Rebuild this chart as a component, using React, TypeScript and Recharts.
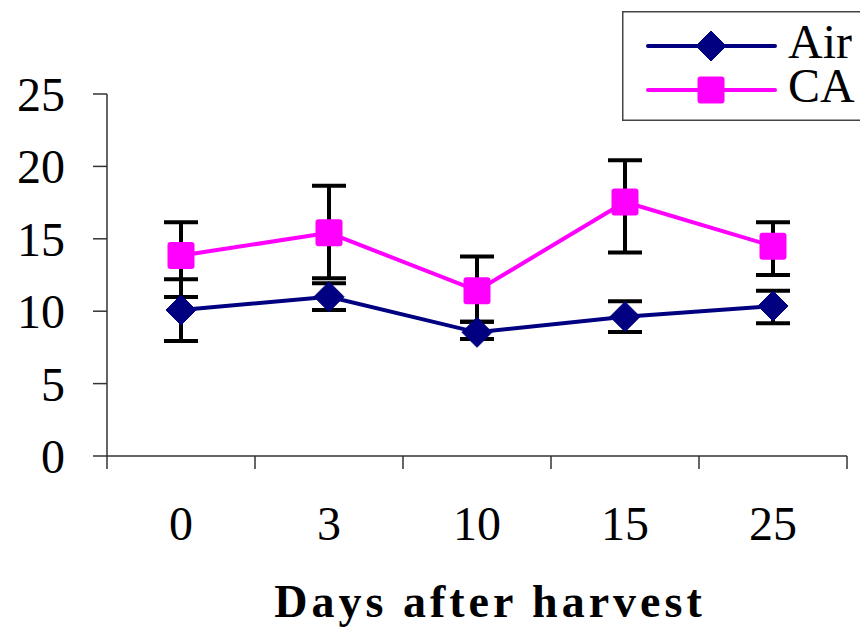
import React from 'react';
import { LineChart, Line, XAxis, YAxis, ErrorBar, Legend, Label } from 'recharts';

const FONT = 'Liberation Serif, Times New Roman, DejaVu Serif, serif';

// days after harvest (category labels)
const days = ['0', '3', '10', '15', '25'];

// mean values
const airValues = [10.08, 11.0, 8.54, 9.62, 10.36];
const caValues = [13.84, 15.41, 11.42, 17.54, 14.49];

// error bars as [below, above]
const airErrors = [[2.13, 2.13], [0.92, 0.93], [0.46, 0.73], [1.06, 1.06], [1.2, 1.06]];
const caErrors = [[2.86, 2.31], [3.13, 3.25], [2.15, 2.35], [3.49, 2.88], [1.99, 1.66]];

const yTicks = [0, 5, 10, 15, 20, 25];

// numeric x axis: boundaries on integers, categories centred on the halves
const xTicks = [0, 0.5, 1, 1.5, 2, 2.5, 3, 3.5, 4, 4.5, 5];

const data = days.map((d, i) => ({
  x: i + 0.5,
  day: d,
  air: airValues[i],
  airErr: airErrors[i],
  ca: caValues[i],
  caErr: caErrors[i],
}));

const NAVY = '#000080';
const MAGENTA = '#FF00FF';

const textStyle = { fontFamily: FONT, fontSize: 48, fill: '#000' };

const Diamond = ({ cx, cy, r = 15 }: any) => (
  <polygon
    points={`${cx},${cy - r} ${cx + r},${cy} ${cx},${cy + r} ${cx - r},${cy}`}
    fill={NAVY}
    stroke={NAVY}
    strokeWidth={1}
    strokeLinejoin="round"
  />
);

const Square = ({ cx, cy, s = 27 }: any) => (
  <rect x={cx - s / 2} y={cy - s / 2} width={s} height={s} rx={3} fill={MAGENTA} />
);

const XTick = ({ x, y, payload }: any) => {
  const v = payload.value;
  if (Number.isInteger(v)) {
    return <line x1={x} y1={y} x2={x} y2={y + 13} stroke="#333" strokeWidth={1.5} />;
  }
  return (
    <text x={x} y={y + 84} textAnchor="middle" style={textStyle}>
      {days[Math.floor(v)]}
    </text>
  );
};

const LegendBox = () => (
  <svg width={240} height={110} style={{ display: 'block' }}>
    <rect x={0.75} y={0.75} width={250} height={108.5} fill="#fff" stroke="#444" strokeWidth={1.5} />
    <line x1={26} y1={35} x2={153} y2={35} stroke={NAVY} strokeWidth={4} strokeLinecap="round" />
    <Diamond cx={89} cy={35} />
    <text x={166} y={47} style={textStyle}>Air</text>
    <line x1={26} y1={79} x2={153} y2={79} stroke={MAGENTA} strokeWidth={4} strokeLinecap="round" />
    <Square cx={89} cy={79} />
    <text x={166} y={91} style={textStyle}>CA</text>
  </svg>
);

export default function App() {
  return (
    <div style={{ position: 'absolute', left: 0, top: 0, background: '#fff', fontFamily: FONT }}>
      <LineChart width={860} height={629} data={data} margin={{ top: 94, right: 13, bottom: 0, left: 0 }}>
        <XAxis
          type="number"
          dataKey="x"
          domain={[0, 5]}
          ticks={xTicks}
          interval={0}
          tickSize={0}
          tickMargin={0}
          tickLine={false}
          tick={<XTick />}
          height={173}
          axisLine={{ stroke: '#333', strokeWidth: 1.5 }}
        >
          <Label
            content={({ viewBox }: any) => (
              <text
                x={viewBox.x + viewBox.width / 2 + 13}
                y={viewBox.y + viewBox.height - 12}
                textAnchor="middle"
                style={{ fontFamily: FONT, fontSize: 46, fontWeight: 'bold', letterSpacing: 4, fill: '#000' }}
              >
                Days after harvest
              </text>
            )}
          />
        </XAxis>
        <YAxis
          type="number"
          domain={[0, 25]}
          ticks={yTicks}
          width={107}
          tickSize={14}
          tickMargin={28}
          axisLine={{ stroke: '#333', strokeWidth: 1.5 }}
          tickLine={{ stroke: '#333', strokeWidth: 1.5 }}
          tick={{ style: textStyle, fontSize: 48, fill: '#000' }}
        />
        <Legend
          layout="vertical"
          align="center"
          verticalAlign="middle"
          wrapperStyle={{ left: 622, top: 11, width: 240, height: 110 }}
          content={() => <LegendBox />}
        />
        <Line
          dataKey="air"
          stroke={NAVY}
          strokeWidth={4}
          isAnimationActive={false}
          activeDot={false}
          dot={(p: any) => <Diamond key={`air-${p.index}`} cx={p.cx} cy={p.cy} />}
        >
          <ErrorBar dataKey="airErr" direction="y" width={17} stroke="#000" strokeWidth={4} />
        </Line>
        <Line
          dataKey="ca"
          stroke={MAGENTA}
          strokeWidth={4}
          isAnimationActive={false}
          activeDot={false}
          dot={(p: any) => <Square key={`ca-${p.index}`} cx={p.cx} cy={p.cy} />}
        >
          <ErrorBar dataKey="caErr" direction="y" width={17} stroke="#000" strokeWidth={4} />
        </Line>
      </LineChart>
    </div>
  );
}
